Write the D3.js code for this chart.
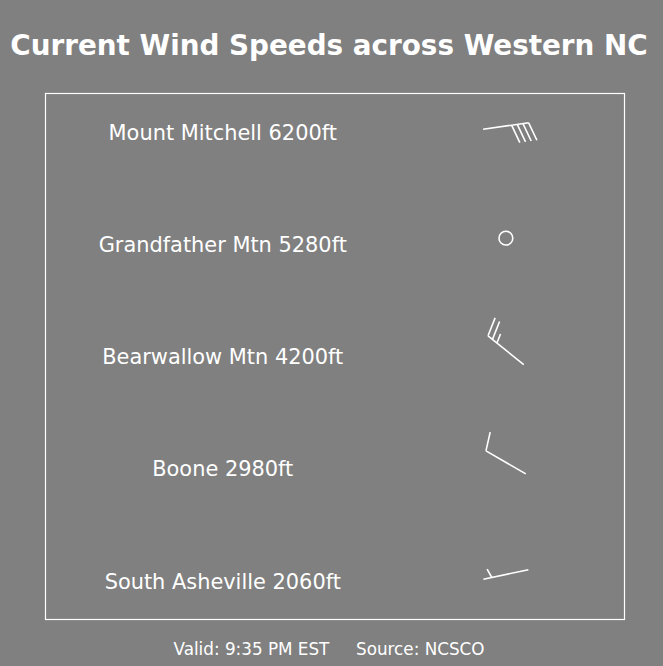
<!DOCTYPE html>
<html>
<head>
<meta charset="utf-8">
<script src="https://cdn.jsdelivr.net/npm/d3@7"></script>
<style>
  body { margin: 0; background: #808080; }
  svg { display: block; font-family: "DejaVu Sans", sans-serif; }
</style>
</head>
<body>
<svg id="chart" width="663" height="666"></svg>
<script>
const stations = ["Mount Mitchell 6200ft", "Grandfather Mtn 5280ft", "Bearwallow Mtn 4200ft", "Boone 2980ft", "South Asheville 2060ft"];
const windDir = [82, 0, 309, 300, 258];   // degrees, direction wind blows from
const windSpeed = [40, 0, 25, 10, 5];     // knots

const width = 663, height = 666;
const box = {left: 45, right: 624, top: 93, bottom: 619};
const barbLen = 46;

const svg = d3.select("#chart");

const x = d3.scaleLinear().domain([0, 1]).range([box.left, box.right]);
const y = d3.scalePoint().domain(stations).range([126, 574.5]);

svg.append("text")
    .attr("x", 329)
    .attr("y", 55)
    .attr("text-anchor", "middle")
    .attr("font-size", 27.8)
    .attr("font-weight", "bold")
    .attr("fill", "white")
    .text("Current Wind Speeds across Western NC");

svg.append("rect")
    .attr("x", box.left + 0.5)
    .attr("y", box.top + 0.5)
    .attr("width", box.right - box.left)
    .attr("height", box.bottom - box.top)
    .attr("fill", "none")
    .attr("stroke", "white")
    .attr("stroke-width", 1.2);

svg.selectAll(".label")
    .data(stations)
    .join("text")
    .attr("class", "label")
    .attr("x", x(0.307))
    .attr("y", d => y(d) + 14)
    .attr("text-anchor", "middle")
    .attr("font-size", 20.9)
    .attr("fill", "white")
    .text(d => d);

// meteorological barb, pivot at middle of the shaft
function barbLines(cx, cy, dir, speed) {
    const L = barbLen;
    const t = dir * Math.PI / 180;
    const d = [Math.sin(t), -Math.cos(t)];   // toward where wind comes from
    const p = [Math.cos(t), Math.sin(t)];    // barb side
    const start = [cx - d[0] * L / 2, cy - d[1] * L / 2];
    const at = (o, h, a) => [start[0] + d[0] * (o + a) + p[0] * h, start[1] + d[1] * (o + a) + p[1] * h];
    const s = Math.round(speed / 5) * 5;
    const flags = Math.floor(s / 50);
    const full = Math.floor((s % 50) / 10);
    const half = (s % 10) >= 5;
    const spacing = 0.125 * L, fh = 0.4 * L, fw = 0.25 * L;
    let path = d3.path();
    path.moveTo(...at(0, 0, 0));
    path.lineTo(...at(L, 0, 0));
    let o = L;
    const polys = [];
    for (let i = 0; i < flags; i++) {
        polys.push([at(o, 0, 0), at(o, fh, -fw / 2), at(o, 0, -fw)]);
        o -= fw + spacing;
    }
    for (let i = 0; i < full; i++) {
        path.moveTo(...at(o, 0, 0));
        path.lineTo(...at(o, fh, fw / 2));
        o -= spacing;
    }
    if (half) {
        if (o === L) o -= 1.5 * spacing;
        path.moveTo(...at(o, 0, 0));
        path.lineTo(...at(o, fh / 2, fw / 4));
    }
    return {path: path.toString(), polys: polys};
}

const barbs = svg.append("g").attr("class", "barbs");
stations.forEach((name, i) => {
    const cx = x(0.796), cy = y(name);
    if (windSpeed[i] < 2.5) {
        barbs.append("circle")
            .attr("cx", cx).attr("cy", cy)
            .attr("r", 0.15 * barbLen)
            .attr("fill", "none")
            .attr("stroke", "white")
            .attr("stroke-width", 1.6);
        return;
    }
    const b = barbLines(cx, cy, windDir[i], windSpeed[i]);
    barbs.append("path")
        .attr("d", b.path)
        .attr("fill", "none")
        .attr("stroke", "white")
        .attr("stroke-width", 1.6);
    b.polys.forEach(pl => {
        barbs.append("polygon")
            .attr("points", pl.map(q => q.join(",")).join(" "))
            .attr("fill", "white")
            .attr("stroke", "white");
    });
});

svg.append("text")
    .attr("x", 329)
    .attr("y", 655)
    .attr("text-anchor", "middle")
    .attr("font-size", 16.8)
    .attr("fill", "white")
    .style("white-space", "pre")
    .text("Valid: 9:35 PM EST     Source: NCSCO");
</script>
</body>
</html>
